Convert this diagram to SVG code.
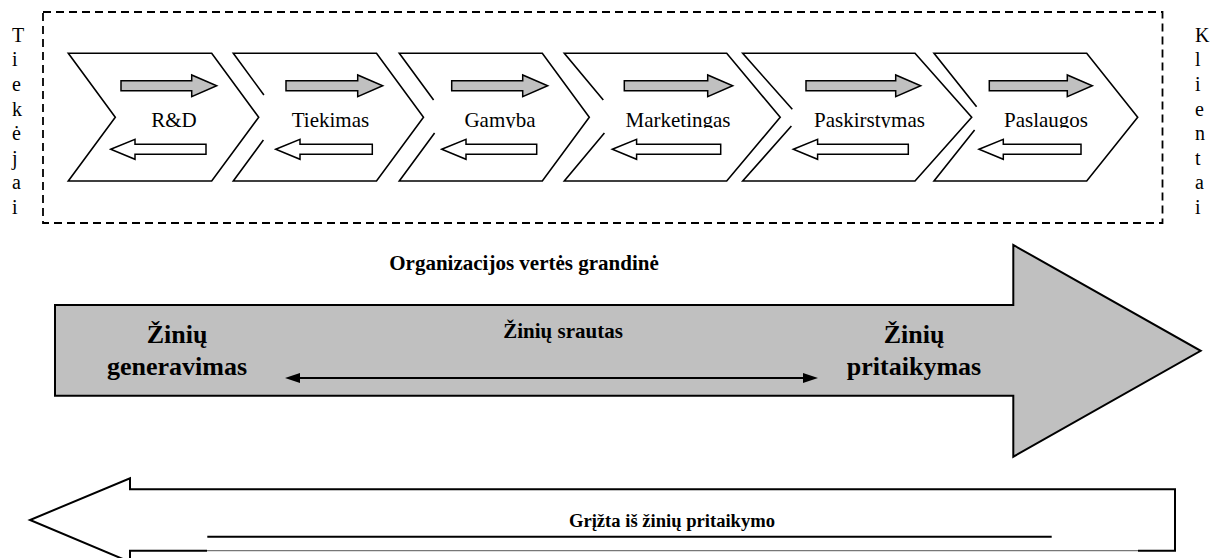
<svg xmlns="http://www.w3.org/2000/svg" width="1210" height="558" viewBox="0 0 1210 558">
  <style>
    .serif { font-family: "Liberation Serif", "Times New Roman", serif; fill: #000; }
    .stage { fill: #fff; stroke: none; }
    .edge { fill: none; stroke: #000; stroke-width: 1.6; stroke-linejoin: miter; }
    .fwd { fill: #c0c0c0; stroke: #000; stroke-width: 1.5; }
    .back { fill: #fff; stroke: #000; stroke-width: 1.5; }
    .label { font-size: 21px; text-anchor: middle; }
    .side { font-size: 20px; }
    .big { font-size: 26px; font-weight: bold; text-anchor: middle; }
    .mid { font-size: 21px; font-weight: bold; text-anchor: middle; }
  </style>
  <defs>
    <clipPath id="labelClip">
      <rect x="0" y="0" width="1210" height="128"/>
    </clipPath>
    <marker id="head" viewBox="0 0 15 10" refX="0" refY="5" markerWidth="15" markerHeight="10" markerUnits="userSpaceOnUse" orient="auto-start-reverse">
      <path d="M0,0 L15,5 L0,10 Z" fill="#000"/>
    </marker>
  </defs>

  <rect width="1210" height="558" fill="#fff"/>

  <!-- value chain frame -->
  <g id="frame">
    <rect x="43" y="12" width="1119.5" height="211" fill="none" stroke="#000" stroke-width="1.8" stroke-dasharray="8 5"/>
  </g>

  <g id="suppliers">
    <text class="serif side" x="12">
      <tspan x="12" y="41.7">T</tspan><tspan x="12" y="66.3">i</tspan><tspan x="12" y="90.9">e</tspan><tspan x="12" y="115.5">k</tspan><tspan x="12" y="140.1">ė</tspan><tspan x="12" y="164.7">j</tspan><tspan x="12" y="189.3">a</tspan><tspan x="12" y="213.9">i</tspan>
    </text>
  </g>

  <g id="customers">
    <text class="serif side" x="1195">
      <tspan x="1195" y="41.7">K</tspan><tspan x="1195" y="66.3">l</tspan><tspan x="1195" y="90.9">i</tspan><tspan x="1195" y="115.5">e</tspan><tspan x="1195" y="140.1">n</tspan><tspan x="1195" y="164.7">t</tspan><tspan x="1195" y="189.3">a</tspan><tspan x="1195" y="213.9">i</tspan>
    </text>
  </g>

  <!-- stages -->
  <g id="stage-rd">
    <path class="stage" d="M68.3,53.3 H211.7 L258.7,117.3 L211.7,181 H68.3 L115.3,117.3 Z"/>
    <path class="edge" d="M68.3,53.3 H211.7 L258.7,117.3 L211.7,181 H68.3 L115.3,117.3 Z"/>
    <path class="fwd" d="M121,80.7 H191.7 V75 L216.7,85.7 L191.7,96.7 V90.7 H121 Z"/>
    <path class="back" d="M110.7,149.3 L135,139.3 V144.3 H206 V154.3 H135 V159.3 Z"/>
    <text class="serif label" x="174" y="127.3" clip-path="url(#labelClip)">R&amp;D</text>
  </g>

  <g id="stage-tiekimas">
    <path class="stage" d="M233.3,53.3 H376.5 L423.5,117.3 L376.5,181 H233.3 L280.3,117.3 Z"/>
    <path class="edge" d="M263.9,95 L233.3,53.3 H376.5 L423.5,117.3 L376.5,181 H233.3 L263.4,140"/>
    <path class="fwd" d="M286,80.7 H357.7 V75 L382.7,85.7 L357.7,96.7 V90.7 H286 Z"/>
    <path class="back" d="M275.7,149.3 L300,139.3 V144.3 H372.3 V154.3 H300 V159.3 Z"/>
    <text class="serif label" x="330.5" y="127.3" clip-path="url(#labelClip)">Tiekimas</text>
  </g>

  <g id="stage-gamyba">
    <path class="stage" d="M399.3,53.3 H542.3 L589.3,117.3 L542.3,181 H399.3 L446.3,117.3 Z"/>
    <path class="edge" d="M433.6,100 L399.3,53.3 H542.3 L589.3,117.3 L542.3,181 H399.3 L434.6,133"/>
    <path class="fwd" d="M451.7,80.7 H522.7 V75 L547.7,85.7 L522.7,96.7 V90.7 H451.7 Z"/>
    <path class="back" d="M441.7,149.3 L466,139.3 V144.3 H536.7 V154.3 H466 V159.3 Z"/>
    <text class="serif label" x="500" y="127.3" clip-path="url(#labelClip)">Gamyba</text>
  </g>

  <g id="stage-marketingas">
    <path class="stage" d="M564.3,53.3 H726.7 L780.2,117.3 L726.7,181 H564.3 L617.8,117.3 Z"/>
    <path class="edge" d="M603.3,100 L564.3,53.3 H726.7 L780.2,117.3 L726.7,181 H564.3 L604.4,133"/>
    <path class="fwd" d="M624.3,80.7 H707.7 V75 L732.7,85.7 L707.7,96.7 V90.7 H624.3 Z"/>
    <path class="back" d="M612.3,149.3 L636.6,139.3 V144.3 H720.7 V154.3 H636.6 V159.3 Z"/>
    <text class="serif label" x="678" y="127.3" clip-path="url(#labelClip)">Marketingas</text>
  </g>

  <g id="stage-paskirstymas">
    <path class="stage" d="M742.7,53.3 H915 L971.7,117.3 L915,181 H742.7 L799.4,117.3 Z"/>
    <path class="edge" d="M792.3,109.3 L742.7,53.3 H915 L971.7,117.3 L915,181 H742.7 L791.4,126"/>
    <path class="fwd" d="M806,80.7 H895.7 V75 L920.7,85.7 L895.7,96.7 V90.7 H806 Z"/>
    <path class="back" d="M793.3,149.3 L817.6,139.3 V144.3 H908.3 V154.3 H817.6 V159.3 Z"/>
    <text class="serif label" x="869.5" y="127.3" clip-path="url(#labelClip)">Paskirstymas</text>
  </g>

  <g id="stage-paslaugos">
    <path class="stage" d="M934,53.3 H1086.7 L1137.7,117.3 L1086.7,181 H934 L985,117.3 Z"/>
    <path class="edge" d="M976.6,106.7 L934,53.3 H1086.7 L1137.7,117.3 L1086.7,181 H934 L974.6,130"/>
    <path class="fwd" d="M989.3,80.7 H1067.3 V75 L1092.3,85.7 L1067.3,96.7 V90.7 H989.3 Z"/>
    <path class="back" d="M979,149.3 L1003.3,139.3 V144.3 H1081 V154.3 H1003.3 V159.3 Z"/>
    <text class="serif label" x="1046" y="127.3" clip-path="url(#labelClip)">Paslaugos</text>
  </g>

  <!-- knowledge flow arrow -->
  <g id="value-chain">
    <text class="serif mid" x="524" y="270">Organizacijos vertės grandinė</text>
    <path d="M55,305 H1013.3 V245 L1200.7,350.8 L1013.3,456.7 V395.7 H55 Z" fill="#c0c0c0" stroke="#000" stroke-width="2"/>
    <text class="serif big" x="177" y="343">Žinių</text>
    <text class="serif big" x="177" y="375">generavimas</text>
    <text class="serif big" x="914" y="343">Žinių</text>
    <text class="serif big" x="914" y="375">pritaikymas</text>
    <text class="serif mid" x="563" y="338">Žinių srautas</text>
  </g>

  <g id="connectors">
    <line x1="300" y1="378" x2="803" y2="378" stroke="#000" stroke-width="2" marker-start="url(#head)" marker-end="url(#head)"/>
  </g>

  <!-- feedback arrow -->
  <g id="feedback">
    <path d="M1138,550.7 H1175 V489.3 H130 V478.3 L30,520 L130,562 V550.7 H207" fill="#fff" stroke="#000" stroke-width="2"/>
    <line x1="207" y1="550.7" x2="1138" y2="550.7" stroke="#777" stroke-width="1.2"/>
    <line x1="207.3" y1="536.7" x2="1051.7" y2="536.7" stroke="#000" stroke-width="2"/>
    <text class="serif" x="672" y="526.7" text-anchor="middle" font-size="18.6" font-weight="bold">Grįžta iš žinių pritaikymo</text>
  </g>
</svg>
